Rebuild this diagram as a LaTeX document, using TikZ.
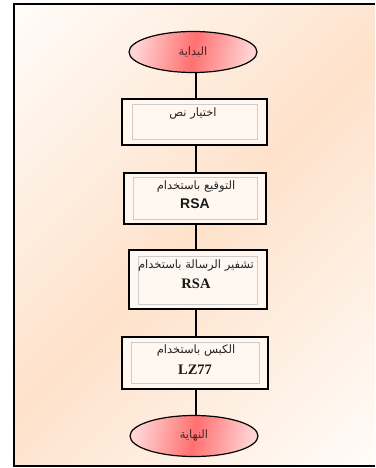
\documentclass[tikz,border=0pt]{standalone}
\usepackage{fontspec}
\setmainfont{Liberation Serif}
\newfontfamily\arabicfont[Script=Arabic]{DejaVu Sans}
\newfontfamily\sansf{Liberation Sans}
\TeXXeTstate=1
\usetikzlibrary{shapes.geometric}
\definecolor{peach}{RGB}{254,226,203}
\definecolor{bgw}{RGB}{255,252,249}
\definecolor{elight}{RGB}{255,212,212}
\definecolor{edark}{RGB}{255,112,112}
\definecolor{boxfill}{RGB}{255,247,240}
\definecolor{innergrey}{RGB}{205,205,205}
\definecolor{etext}{RGB}{70,40,40}
\tikzset{
  term/.style={ellipse, draw=black, line width=1.2pt, minimum width=128pt, minimum height=41pt, inner sep=0pt,
    path picture={\shade[left color=elight, right color=elight, middle color=edark, shading angle=80]
      (path picture bounding box.south west) rectangle (path picture bounding box.north east);},
    font=\arabicfont\fontsize{11.5}{13}\selectfont, text=etext},
  outerbox/.style={rectangle, draw=black, line width=1.3pt, fill=boxfill, inner sep=0pt},
  innerbox/.style={rectangle, draw=innergrey, line width=0.6pt, inner sep=0pt},
  lbl/.style={font=\arabicfont\fontsize{11.5}{13}\selectfont, text=black!85, inner sep=0pt},
  latlbl/.style={font=\bfseries\fontsize{14.5}{16}\selectfont, text=black!90, inner sep=0pt},
  conn/.style={line width=1.3pt, draw=black}
}
\begin{document}
\begin{tikzpicture}[x=1pt,y=-1pt]
\useasboundingbox (0,0) rectangle (375,468);
\begin{scope}
\clip (14,4) rectangle (375,466);
\foreach \i in {0,...,59} {
  \pgfmathsetmacro\s{18+\i*13.75}
  \pgfmathsetmacro\e{\s+14.5}
  \pgfmathtruncatemacro\p{100-abs(\i+0.5-30)/30*100}
  \fill[peach!\p!bgw] (\s+10,-10) -- (\e+10,-10) -- (\e-480,480) -- (\s-480,480) -- cycle;
}
\end{scope}
\draw[line width=1.8pt] (375,4) -- (14,4) -- (14,466) -- (375,466);

% connectors (drawn first, covered by shapes)
\coordinate (c1) at (196,52);
\coordinate (c2) at (196,436);
\draw[conn] (c1) -- (c2);

% terminals
\node[term] (e1) at (193,52) {\beginR البداية\endR};
\node[term] (e2) at (194,436) {\beginR النهاية\endR};

% boxes
\node[outerbox, minimum width=145pt, minimum height=46pt] (b1) at (194.5,122) {};
\node[innerbox, minimum width=125pt, minimum height=35pt] (i1) at (194.5,121.5) {};
\node[lbl] (t1) at (193,114) {\beginR اختيار نص\endR};

\node[outerbox, minimum width=142pt, minimum height=51pt] (b2) at (195,198.5) {};
\node[innerbox, minimum width=124pt, minimum height=42pt] (i2) at (195,198) {};
\node[lbl] (t2a) at (196,187) {\beginR التوقيع باستخدام\endR};
\node[latlbl, font=\sansf\bfseries\fontsize{14}{16}\selectfont] (t2b) at (195,203.5) {RSA};

\node[outerbox, minimum width=138pt, minimum height=59pt] (b3) at (198,279.5) {};
\node[innerbox, minimum width=119pt, minimum height=48pt] (i3) at (197.5,280) {};
\node[lbl] (t3a) at (196,266) {\beginR تشفير الرسالة باستخدام\endR};
\node[latlbl] (t3b) at (196,283.5) {RSA};

\node[outerbox, minimum width=146pt, minimum height=52pt] (b4) at (195,363) {};
\node[innerbox, minimum width=128pt, minimum height=41pt] (i4) at (195,362.5) {};
\node[lbl] (t4a) at (196,351) {\beginR الكبس باستخدام\endR};
\node[latlbl] (t4b) at (195,370) {LZ77};
\end{tikzpicture}
\end{document}
